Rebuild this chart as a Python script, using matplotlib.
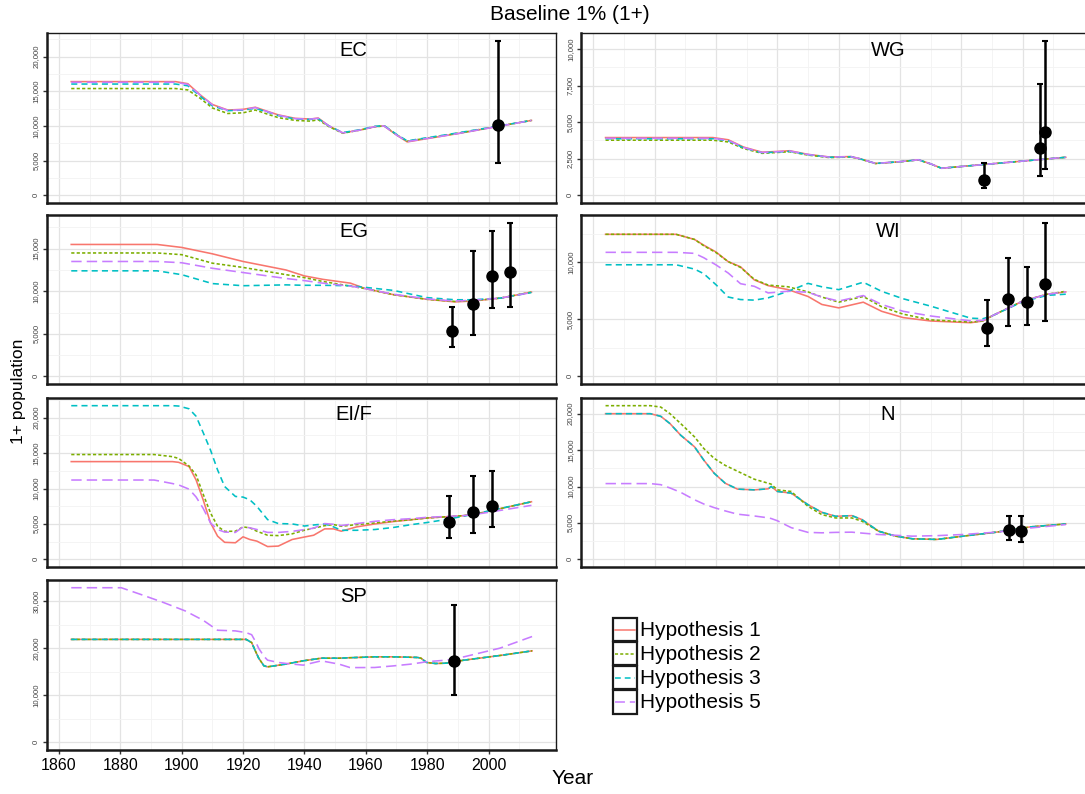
import matplotlib
matplotlib.use('Agg')
import matplotlib.pyplot as plt
from matplotlib.ticker import FuncFormatter, MultipleLocator, FixedLocator
from matplotlib.patches import Rectangle

plt.rcParams['font.family'] = ['Liberation Sans', 'DejaVu Sans']

# ---------------- data ----------------
HYPS = ['Hypothesis 1', 'Hypothesis 2', 'Hypothesis 3', 'Hypothesis 5']
COLORS = ['#F8766D', '#7CAE00', '#00BFC4', '#C77CFF']
X_BREAKS = [1860, 1880, 1900, 1920, 1940, 1960, 1980, 2000]

# EC
EC_YEARS = [1864, 1898, 1902, 1906, 1910, 1915, 1920, 1924, 1928, 1931.5, 1937, 1942, 1944.5, 1948,
            1952.5, 1958, 1963, 1966, 1970, 1973.5, 1990, 2014]
EC_H1 = [16400, 16400, 16100, 14500, 13100, 12300, 12400, 12700, 12100, 11600, 11100, 11000, 11150, 10000,
         9000, 9400, 9900, 10000, 8700, 7700, 8900, 10800]
EC_H2 = [15400, 15400, 15200, 14000, 12600, 11800, 11900, 12300, 11700, 11200, 10800, 10700, 10900, 9900,
         8950, 9400, 9900, 10000, 8750, 7800, 8950, 10800]
EC_H3 = [16050, 16050, 15800, 14300, 12900, 12200, 12300, 12550, 12000, 11500, 11000, 10950, 11050, 10000,
         9050, 9450, 9950, 10050, 8800, 7850, 9000, 10800]
EC_H5 = [16300, 16300, 16000, 14450, 13050, 12250, 12350, 12650, 12050, 11550, 11050, 11000, 11100, 10000,
         9000, 9400, 9900, 10000, 8700, 7750, 8900, 10800]
EC_OBS_YEAR = [2003]
EC_OBS = [10150]
EC_OBS_LO = [4600]
EC_OBS_HI = [22300]

# WG
WG_YEARS = [1864, 1899, 1904, 1909, 1915, 1920, 1924, 1930, 1937, 1944, 1947, 1952, 1960, 1966, 1970, 1973.5, 2014]
WG_H1 = [3950, 3950, 3800, 3300, 2950, 3000, 3050, 2800, 2620, 2650, 2500, 2180, 2300, 2430, 2150, 1850, 2600]
WG_H2 = [3770, 3770, 3650, 3200, 2870, 2930, 2980, 2750, 2580, 2620, 2480, 2170, 2290, 2420, 2140, 1850, 2600]
WG_H3 = [3870, 3870, 3730, 3250, 2910, 2960, 3010, 2780, 2600, 2640, 2490, 2180, 2300, 2430, 2150, 1850, 2600]
WG_H5 = [3900, 3900, 3760, 3270, 2930, 2980, 3030, 2790, 2610, 2645, 2495, 2180, 2300, 2430, 2150, 1850, 2600]
WG_OBS_YEAR = [1987.4, 2005.5, 2007.3]
WG_OBS = [1040, 3220, 4360]
WG_OBS_LO = [480, 1340, 1770]
WG_OBS_HI = [2180, 7650, 10580]

# EG
EG_YEARS = [1864, 1892, 1900, 1910, 1920, 1934, 1940, 1946, 1955, 1960, 1969, 1980, 1989, 1995, 2004, 2014]
EG_H1 = [15500, 15500, 15150, 14400, 13500, 12500, 11800, 11400, 10950, 10300, 9600, 9050, 8750, 8850, 9200, 9900]
EG_H2 = [14500, 14500, 14300, 13300, 12800, 11950, 11600, 11150, 10600, 10300, 9600, 9050, 8800, 8900, 9200, 9900]
EG_H3 = [12400, 12400, 11950, 10900, 10650, 10750, 10700, 10700, 10650, 10450, 10100, 9250, 9000, 9000, 9200, 9850]
EG_H5 = [13500, 13500, 13350, 12700, 12200, 11500, 11250, 10950, 10600, 10300, 9650, 9100, 8850, 8950, 9200, 9850]
EG_OBS_YEAR = [1988.2, 1995, 2001.1, 2007]
EG_OBS = [5270, 8450, 11740, 12210]
EG_OBS_LO = [3410, 4810, 7980, 8180]
EG_OBS_HI = [8140, 14770, 17090, 18060]

# WI
WI_YEARS = [1864, 1887, 1893, 1896, 1900, 1904, 1908, 1912.5, 1917, 1923.5, 1930, 1934.5, 1940, 1948, 1954,
            1961, 1970, 1983, 1987, 1990, 2000, 2008, 2014]
WI_H1 = [12450, 12450, 12000, 11500, 10900, 10050, 9600, 8450, 7950, 7600, 7000, 6300, 6000, 6500, 5700,
         5150, 4850, 4700, 4850, 5300, 6600, 7200, 7400]
WI_H2 = [12450, 12450, 12000, 11450, 10850, 10050, 9550, 8500, 8000, 7850, 7400, 6950, 6500, 7000, 6100,
         5450, 4950, 4750, 4850, 5300, 6600, 7200, 7450]
WI_H3 = [9780, 9780, 9400, 9000, 8030, 6950, 6730, 6680, 6880, 7450, 8150, 7850, 7600, 8250, 7450,
         6800, 6150, 5100, 5050, 5300, 6550, 7100, 7200]
WI_H5 = [10870, 10870, 10780, 10400, 9770, 9050, 8120, 7890, 7310, 7460, 7370, 6950, 6600, 7080, 6300,
         5700, 5290, 4860, 4900, 5300, 6600, 7200, 7400]
WI_OBS_YEAR = [1988.2, 1995.3, 2001.3, 2007.3]
WI_OBS = [4280, 6790, 6530, 8090]
WI_OBS_LO = [2690, 4420, 4510, 4860]
WI_OBS_HI = [6680, 10400, 9570, 13470]

# EI/F
EIF_YEARS = [1864, 1891, 1897, 1899, 1902.4, 1904.7, 1907, 1909.4, 1911.7, 1914, 1917.5, 1920, 1922.2, 1924.5,
             1928, 1931.5, 1936, 1940, 1943, 1946.6, 1949.5, 1952, 1957, 1963, 1969, 1975, 1980, 1986, 1992,
             1998, 2014]
EIF_H1 = [13800, 13800, 13800, 13700, 13100, 11200, 8400, 5150, 3270, 2400, 2340, 3180, 2800, 2570,
          1800, 1870, 2800, 3150, 3400, 4300, 4300, 3970, 4580, 5000, 5330, 5600, 5840, 6000, 6170,
          6600, 8130]
EIF_H2 = [14800, 14800, 14500, 14250, 13180, 11900, 9200, 6540, 4670, 3950, 3970, 4580, 4440, 3970,
          3400, 3350, 3600, 4110, 4400, 4750, 4910, 4670, 4900, 5140, 5400, 5600, 5840, 6000, 6170,
          6600, 8130]
EIF_H3 = [21700, 21700, 21700, 21650, 21260, 20200, 17900, 15420, 12620, 10280, 8880, 8790, 8410, 7480,
          5610, 5050, 5000, 4700, 4850, 5000, 4580, 4100, 4100, 4210, 4500, 4910, 5200, 5610, 6100,
          6640, 8130]
EIF_H5 = [11200, 11200, 10700, 10510, 9910, 8800, 7200, 5140, 4210, 3850, 3800, 4580, 4450, 4210,
          3800, 3800, 3950, 4200, 4400, 5050, 4950, 4770, 5050, 5370, 5600, 5750, 5930, 6050, 6170,
          6500, 7620]
EIF_OBS_YEAR = [1987, 1995, 2001.1]
EIF_OBS = [5330, 6640, 7520]
EIF_OBS_LO = [3040, 3740, 4580]
EIF_OBS_HI = [8970, 11780, 12430]

# N
N_YEARS = [1864, 1878.6, 1882, 1885, 1888.5, 1893, 1896, 1899.4, 1903, 1907, 1912.5, 1917, 1918, 1920,
           1924.5, 1930, 1934.5, 1939, 1944.3, 1947.6, 1953, 1958.6, 1964, 1972, 1980.5, 1991.4, 2002.4, 2014]
N_H1 = [20000, 20000, 19640, 18640, 17040, 15450, 13640, 11820, 10450, 9640, 9540, 9680, 10000, 9320,
        9090, 7500, 6450, 5910, 6000, 5450, 3860, 3180, 2820, 2730, 3180, 3730, 4450, 4860]
N_H2 = [21100, 21100, 20910, 20000, 18640, 16820, 15230, 13860, 12900, 12100, 11000, 10450, 10320, 9540,
        9320, 7270, 6140, 5680, 5680, 5230, 3860, 3180, 2820, 2730, 3180, 3730, 4450, 4860]
N_H3 = [20000, 20000, 19640, 18640, 17040, 15450, 13640, 11820, 10450, 9640, 9540, 9680, 10000, 9320,
        9090, 7500, 6450, 5910, 6000, 5450, 3860, 3180, 2820, 2730, 3180, 3730, 4450, 4860]
N_H5 = [10400, 10400, 10250, 9800, 9200, 8180, 7600, 7100, 6650, 6200, 5950, 5700, 5600, 5300,
        4350, 3700, 3640, 3700, 3730, 3600, 3410, 3300, 3180, 3250, 3410, 3730, 4300, 4770]
N_OBS_YEAR = [1995.5, 1999.3]
N_OBS = [4090, 3860]
N_OBS_LO = [2590, 2360]
N_OBS_HI = [6000, 6000]

# SP
SP_YEARS = [1864, 1880.3, 1887.2, 1894.2, 1901.2, 1907, 1911.7, 1917.5, 1921, 1922.8, 1924, 1925.1, 1926.8,
            1928, 1931.5, 1933.8, 1939.6, 1945.5, 1951.3, 1954.8, 1957.1, 1962.9, 1968.8, 1974.6, 1976.9,
            1978, 1979.8, 1982.7, 1986.2, 1992, 2003.7, 2014.2]
SP_H1 = [21900, 21900, 21900, 21900, 21900, 21900, 21900, 21900, 21900, 21230, 19460, 17900, 16280,
         16060, 16400, 16630, 17340, 17900, 17900, 18000, 18050, 18190, 18190, 18100, 18050,
         17900, 16990, 16770, 16840, 17480, 18470, 19460]
SP_H2 = list(SP_H1)
SP_H3 = list(SP_H1)
SP_H5 = [32900, 32900, 31350, 29720, 27950, 25970, 23850, 23710, 23350, 22900, 21500, 20000, 18300,
         17480, 16990, 16800, 16420, 17340, 16630, 15920, 15900, 15920, 16250, 16630, 16850,
         16950, 17150, 17300, 17480, 18190, 20030, 22510]
SP_OBS_YEAR = [1988.8]
SP_OBS = [17340]
SP_OBS_LO = [10120]
SP_OBS_HI = [29230]

# ---------------- figure ----------------
W, H = 1085, 794
fig = plt.figure(figsize=(W / 100, H / 100), dpi=100)

DASHES = [None, (2.0, 1.4), (3.8, 2.6), (6.5, 3.2)]
LW = 1.15

LEFT_X, RIGHT_X, PW = 46.7, 581.0, 509.3
ROWS = [(33, 170), (215, 169), (398, 169), (580, 170)]

panels = [
    ('EC', LEFT_X, 0, 5000, EC_YEARS, [EC_H1, EC_H2, EC_H3, EC_H5], EC_OBS_YEAR, EC_OBS, EC_OBS_LO, EC_OBS_HI),
    ('WG', RIGHT_X, 0, 2500, WG_YEARS, [WG_H1, WG_H2, WG_H3, WG_H5], WG_OBS_YEAR, WG_OBS, WG_OBS_LO, WG_OBS_HI),
    ('EG', LEFT_X, 1, 5000, EG_YEARS, [EG_H1, EG_H2, EG_H3, EG_H5], EG_OBS_YEAR, EG_OBS, EG_OBS_LO, EG_OBS_HI),
    ('WI', RIGHT_X, 1, 5000, WI_YEARS, [WI_H1, WI_H2, WI_H3, WI_H5], WI_OBS_YEAR, WI_OBS, WI_OBS_LO, WI_OBS_HI),
    ('EI/F', LEFT_X, 2, 5000, EIF_YEARS, [EIF_H1, EIF_H2, EIF_H3, EIF_H5], EIF_OBS_YEAR, EIF_OBS, EIF_OBS_LO, EIF_OBS_HI),
    ('N', RIGHT_X, 2, 5000, N_YEARS, [N_H1, N_H2, N_H3, N_H5], N_OBS_YEAR, N_OBS, N_OBS_LO, N_OBS_HI),
    ('SP', LEFT_X, 3, 10000, SP_YEARS, [SP_H1, SP_H2, SP_H3, SP_H5], SP_OBS_YEAR, SP_OBS, SP_OBS_LO, SP_OBS_HI),
]

fmt = FuncFormatter(lambda v, p: '{:,}'.format(int(round(v))))
x_minor = [b + 10 for b in X_BREAKS]

for name, x0, row, ystep, years, series, oy, ov, olo, ohi in panels:
    top, h = ROWS[row]
    ax = fig.add_axes([x0 / W, 1 - (top + h) / H, PW / W, h / H])
    ax.set_xlim(1856, 2022)
    m = max(max(max(s) for s in series), max(ohi))
    ax.set_ylim(-0.05 * m, 1.05 * m)

    ax.xaxis.set_major_locator(FixedLocator(X_BREAKS))
    ax.xaxis.set_minor_locator(FixedLocator(x_minor))
    ax.yaxis.set_major_locator(MultipleLocator(ystep))
    ax.yaxis.set_minor_locator(MultipleLocator(ystep / 2))
    ax.yaxis.set_major_formatter(fmt)
    ax.set_axisbelow(True)
    ax.grid(which='major', color='#E3E3E3', lw=0.9)
    ax.grid(which='minor', color='#F3F3F3', lw=0.6)

    for s, c, d, lab in zip(series, COLORS, DASHES, HYPS):
        ln, = ax.plot(years, s, color=c, lw=LW, label=lab, zorder=3)
        if d is not None:
            ln.set_dashes(d)

    yerr = [[v - lo for v, lo in zip(ov, olo)], [hi - v for v, hi in zip(ov, ohi)]]
    ax.errorbar(oy, ov, yerr=yerr, fmt='o', color='black', ms=8, elinewidth=1.8,
                capsize=2.2, capthick=1.5, zorder=5)

    ax.text(1956, 0.9, name, transform=ax.get_xaxis_transform(), ha='center', va='center',
            fontsize=14.5, color='black')

    ax.tick_params(axis='y', which='major', labelsize=5.6, labelcolor='#444444', length=3,
                   width=1, color='#333333', pad=2, labelrotation=90)
    for t in ax.get_yticklabels():
        t.set_va('center')
    ax.tick_params(axis='both', which='minor', length=0)
    if name == 'SP':
        ax.tick_params(axis='x', which='major', labelsize=11.5, labelcolor='black', length=3,
                       width=1, color='#333333', pad=3)
    else:
        ax.tick_params(axis='x', which='major', length=0, labelbottom=False)

    for sp in ['left', 'bottom']:
        ax.spines[sp].set_linewidth(1.8)
        ax.spines[sp].set_color('#1A1A1A')
    ax.spines['right'].set_linewidth(1.0)
    ax.spines['right'].set_color('#1A1A1A')
    ax.spines['top'].set_linewidth(1.0 if row == 0 else 1.8)
    ax.spines['top'].set_color('#1A1A1A')

# titles and axis labels
fig.text(570 / W, 1 - 15 / H, 'Baseline 1% (1+)', ha='center', va='center', fontsize=15)
fig.text(573 / W, 1 - 778 / H, 'Year', ha='center', va='center', fontsize=15)
fig.text(19 / W, 1 - 391 / H, '1+ population', rotation=90, ha='center', va='center', fontsize=12.5)

# legend
lx0, ly0, lx1, ly1 = 612.0, 617.5, 900.0, 714.0
lax = fig.add_axes([lx0 / W, 1 - ly1 / H, (lx1 - lx0) / W, (ly1 - ly0) / H])
lax.set_xlim(0, lx1 - lx0)
lax.set_ylim(ly1 - ly0, 0)
lax.axis('off')
kh = (ly1 - ly0) / 4
for i, (c, d, lab) in enumerate(zip(COLORS, DASHES, HYPS)):
    y0 = i * kh
    lax.add_patch(Rectangle((0.8, y0 + 0.5), 24.5, kh - 1.0, fill=False, ec='#1A1A1A', lw=1.6,
                            clip_on=False))
    ln, = lax.plot([3, 23], [y0 + kh / 2, y0 + kh / 2], color=c, lw=1.1, clip_on=False)
    if d is not None:
        ln.set_dashes(d)
    lax.text(28, y0 + kh / 2 + 0.5, lab, ha='left', va='center', fontsize=15)

fig.savefig('out.png', dpi=100)
